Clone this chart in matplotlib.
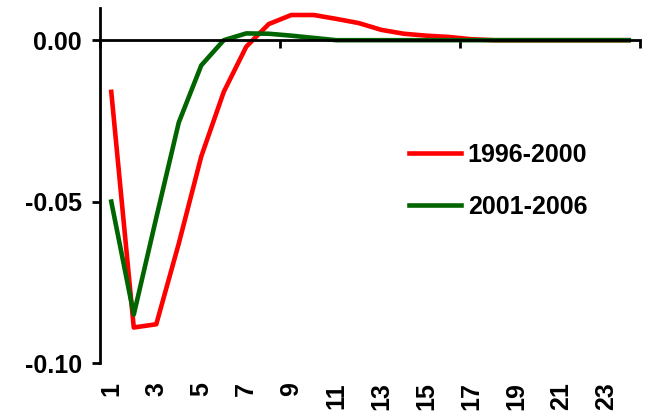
import matplotlib.pyplot as plt
import numpy as np

periods = np.arange(1, 25)
r_1996_2000 = [-0.016, -0.089, -0.088, -0.063, -0.036, -0.016, -0.002, 0.005, 0.0078, 0.0078,
               0.0066, 0.0053, 0.0032, 0.002, 0.0014, 0.001, 0.0003, 0, 0, 0, 0, 0, 0, 0]
r_2001_2006 = [-0.050, -0.085, -0.055, -0.0255, -0.0078, 0.0, 0.0021, 0.002, 0.0014, 0.0007,
               0.0, 0, 0, 0, 0, 0, 0, 0, 0, 0, 0, 0, 0, 0]
tick_labels = [str(p) for p in periods[::2]]

plt.rcParams['font.family'] = ['Liberation Sans', 'DejaVu Sans']
plt.rcParams['font.weight'] = 'bold'
fs = 18

fig = plt.figure(figsize=(6.47, 4.16), dpi=100)
ax = fig.add_axes([0.1546, 0.1274, 0.8346, 0.8536])

ax.plot(periods, r_1996_2000, color='#ff0000', lw=3.3, label='1996-2000')
ax.plot(periods, r_2001_2006, color='#006400', lw=3.3, label='2001-2006')

ax.set_xlim(0.5, 24.5)
ax.set_ylim(-0.10, 0.01)

# y axis
ax.set_yticks([-0.10, -0.05, 0.0])
ax.set_yticklabels(['-0.10', '-0.05', '0.00'], fontsize=fs, fontweight='bold')
ax.tick_params(axis='y', length=6, width=2, pad=7)
ax.spines['left'].set_linewidth(2)
ax.spines['right'].set_visible(False)
ax.spines['top'].set_visible(False)

# x axis line at zero with category separators
ax.spines['bottom'].set_position(('data', 0))
ax.spines['bottom'].set_linewidth(2)
ax.set_xticks([0.5, 8.5, 16.5, 24.5])
ax.set_xticklabels([])
ax.tick_params(axis='x', length=6, width=2, direction='out')

# category labels at the bottom
sec = ax.secondary_xaxis('bottom')
sec.set_xticks(periods[::2])
sec.set_xticklabels(tick_labels, rotation=90, fontsize=fs, fontweight='bold')
sec.tick_params(length=0, pad=14)
sec.spines['bottom'].set_visible(False)

ax.legend(loc='center left', bbox_to_anchor=(0.549, 0.513), frameon=False, borderpad=0,
          prop={'size': fs, 'weight': 'bold'}, handlelength=2.1, handletextpad=0.25,
          labelspacing=1.1)

fig.savefig('out.png', dpi=100)
